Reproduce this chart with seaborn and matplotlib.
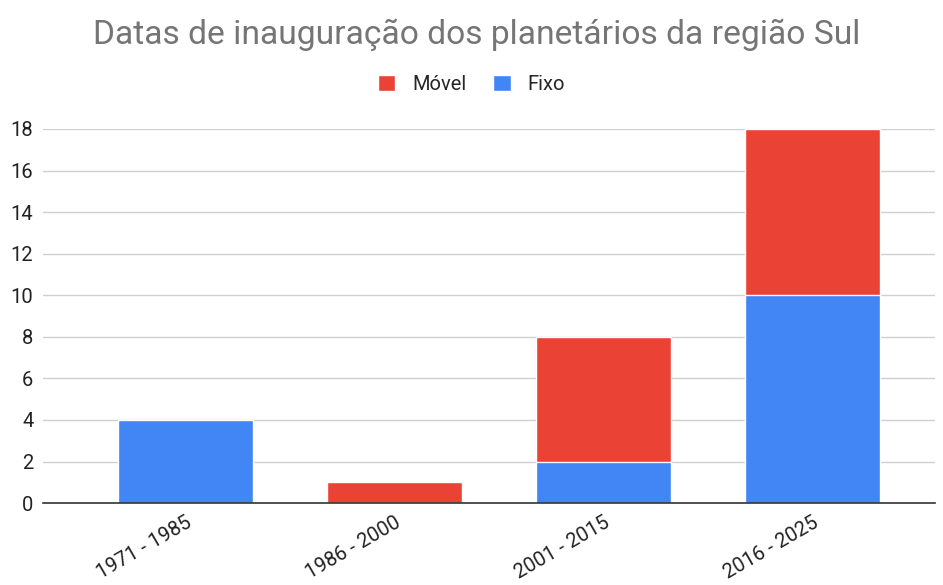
import matplotlib
matplotlib.use("Agg")
import matplotlib.pyplot as plt
import seaborn as sns
import numpy as np

# data
periodos = ["1971 - 1985", "1986 - 2000", "2001 - 2015", "2016 - 2025"]
fixo = [4, 0, 2, 10]
movel = [0, 1, 6, 8]
total = [f + m for f, m in zip(fixo, movel)]

RED = "#EA4335"
BLUE = "#4285F4"

sns.set_style("white")
plt.rcParams["font.family"] = ["Roboto", "DejaVu Sans"]

fig = plt.figure(figsize=(9.43, 5.85), dpi=100)
ax = fig.add_axes([0.0456, 0.140, 0.946, 0.6395])

# stacked bars: total (red) behind, Fixo (blue) in front
sns.barplot(x=periodos, y=total, color=RED, width=0.646, saturation=1, ax=ax, label="Móvel")
sns.barplot(x=periodos, y=fixo, color=BLUE, width=0.646, saturation=1, ax=ax, label="Fixo")

ax.set_ylim(0, 18)
ax.set_xlim(-0.682, 3.586)
ax.set_yticks(np.arange(0, 19, 2))
ax.yaxis.grid(True, color="#d0d0d0", linewidth=1)
ax.set_axisbelow(True)
for s in ["top", "right", "left"]:
    ax.spines[s].set_visible(False)
ax.spines["bottom"].set_color("#333333")
ax.spines["bottom"].set_linewidth(1.2)
ax.spines["bottom"].set_zorder(5)
ax.tick_params(axis="both", length=0, labelsize=14.5, colors="#222222")
ax.tick_params(axis="y", pad=7)
ax.tick_params(axis="x", pad=7)
plt.setp(ax.get_xticklabels(), rotation=30, ha="right", rotation_mode="anchor")
ax.set_xlabel("")
ax.set_ylabel("")

handles, labels = ax.get_legend_handles_labels()
order = [labels.index("Móvel"), labels.index("Fixo")]
ax.legend([handles[i] for i in order], [labels[i] for i in order],
          loc="center", bbox_to_anchor=(0.5, 0.855), bbox_transform=fig.transFigure,
          ncol=2, frameon=False, fontsize=14.5, handlelength=0.85, handleheight=0.85,
          handletextpad=0.85, columnspacing=1.35)

fig.suptitle("Datas de inauguração dos planetários da região Sul", x=0.505, y=0.968,
             fontsize=24.2, color="#757575")

fig.savefig("out.png", dpi=100)
